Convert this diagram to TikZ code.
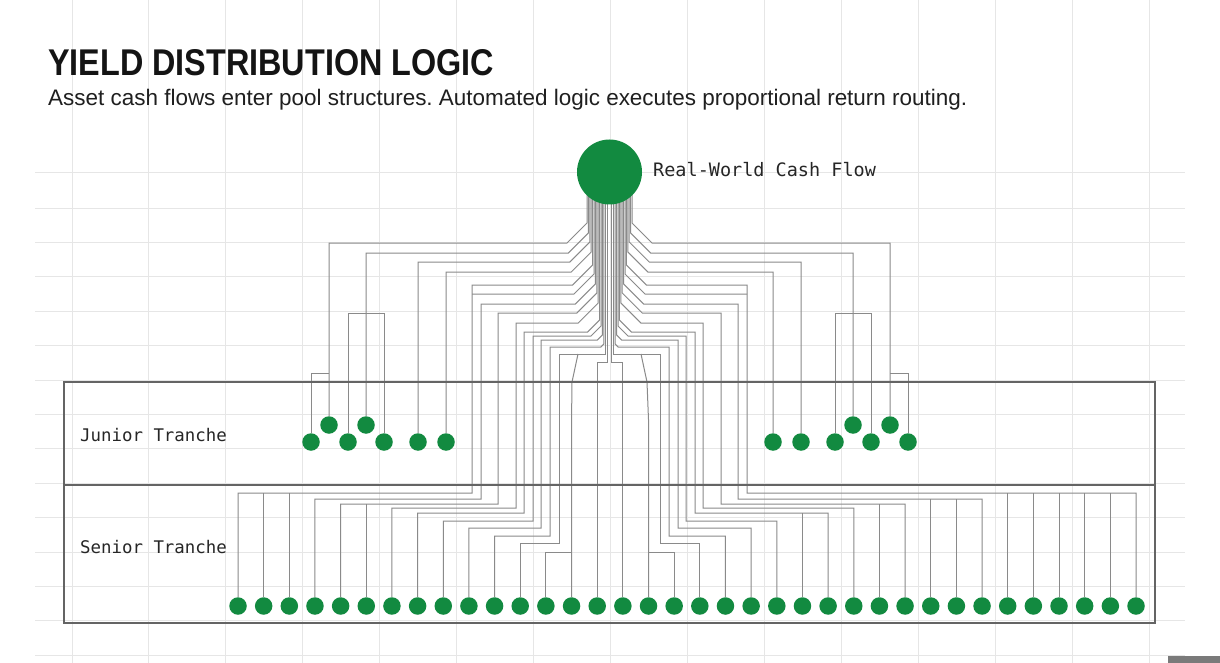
\documentclass[tikz,border=0pt]{standalone}
\usepackage{fontspec}
\setmainfont{Liberation Sans}
\setmonofont{DejaVu Sans Mono}
\usepackage{graphicx}
\usetikzlibrary{backgrounds}
\definecolor{dotgreen}{RGB}{18,138,64}
\definecolor{wiregray}{RGB}{138,138,138}
\definecolor{boxgray}{RGB}{100,100,100}
\definecolor{gridgray}{RGB}{230,230,230}
\tikzset{
  wire/.style={draw=wiregray, line width=1pt},
  gridline/.style={draw=gridgray, line width=0.9pt},
  dotnode/.style={circle, fill=dotgreen, inner sep=0pt, minimum size=17.5pt},
  tranche/.style={draw=boxgray, line width=1.8pt, inner sep=0pt, minimum width=1091pt},
  monolbl/.style={anchor=base west, inner sep=0pt, font=\fontsize{17.4}{17.4}\selectfont\ttfamily, text=black!85},
}
\frenchspacing
\begin{document}
\begin{tikzpicture}[x=1pt,y=-1pt]
\useasboundingbox (0,0) rectangle (1220,663);

% source
\node[circle, fill=dotgreen, inner sep=0pt, minimum size=65pt] (src) at (609.5,172) {};
\node[anchor=base west, inner sep=0pt, font=\fontsize{18.5}{18.5}\selectfont\ttfamily, text=black!85] (srclbl) at (653,176.5) {Real-World Cash Flow};

% title
\node[anchor=base west, inner sep=0pt, text=black!92] (title) at (48,76) {\resizebox{446pt}{26pt}{\fontsize{36}{36}\selectfont\bfseries YIELD DISTRIBUTION LOGIC}};
\node[anchor=base west, inner sep=0pt, text=black!88] (sub) at (48,106) {\resizebox{919pt}{!}{\fontsize{18.5}{18.5}\selectfont Asset cash flows enter pool structures. Automated logic executes proportional return routing.}};

% tranche boxes
\node[tranche, minimum height=103pt] (junior) at (609.5,433.5) {};
\node[tranche, minimum height=138pt] (senior) at (609.5,554) {};
\node[monolbl] (jlbl) at (80,441) {Junior Tranche};
\node[monolbl] (slbl) at (80,553) {Senior Tranche};

% senior dots
\foreach \n in {0,...,35}{
  \pgfmathsetmacro\sx{238+25.657*\n}
  \node[dotnode] (S\n) at (\sx,606) {};
}
% junior dots
\foreach \nm/\jx/\jy in {L1/311/442, L2/329/425, L3/348/442, L4/366/425, L5/384/442, L6/418/442, L7/446/442,
  R1/908/442, R2/890/425, R3/871/442, R4/853/425, R5/835/442, R6/801/442, R7/773/442}{
  \node[dotnode] (\nm) at (\jx,\jy) {};
}

\begin{scope}[on background layer]
  \fill[white] (0,0) rectangle (1220,663);
  % grid
  \foreach \i in {0,...,14}{
    \pgfmathsetmacro\gx{72+76.93*\i}
    \draw[gridline] (\gx,0) -- (\gx,663);
  }
  \foreach \gy in {172,208,242.4,276.8,311.2,345.6,380,414.4,448.8,483.2,517.6,552,586.4,620.8,655.2}{
    \draw[gridline] (35,\gy) -- (1185,\gy);
  }

  % junior wires, left
  \foreach \kk/\hh/\dd/\tg in {0/243/20/L2, 1/253/20/L4, 2/262/20/L6, 3/272/20/L7}{
    \pgfmathsetmacro\wdx{-22.5+1.4*\kk}
    \pgfmathsetmacro\wb{609.5+\wdx}
    \pgfmathsetmacro\wc{\wb-\dd}
    \pgfmathsetmacro\wt{\hh-\dd}
    \draw[wire] ([xshift=\wdx pt]src.center) -- (\wb,\wt) -- (\wc,\hh) -| (\tg);
  }
  % junior wires, right
  \foreach \kk/\hh/\dd/\tg in {0/243/20/R2, 1/253/20/R4, 2/262/20/R6, 3/272/20/R7}{
    \pgfmathsetmacro\wdx{22.5-1.4*\kk}
    \pgfmathsetmacro\wb{609.5+\wdx}
    \pgfmathsetmacro\wc{\wb+\dd}
    \pgfmathsetmacro\wt{\hh-\dd}
    \draw[wire] ([xshift=\wdx pt]src.center) -- (\wb,\wt) -- (\wc,\hh) -| (\tg);
  }
  % junior branches
  \draw[wire] (L2 |- 0,373) -| (L1);
  \draw[wire] (L3) |- (L5 |- 0,313) -- (L5);
  \draw[wire] (R2 |- 0,373) -| (R1);
  \draw[wire] (R3) |- (R5 |- 0,313) -- (R5);

  % senior wires, left
  \foreach \kk/\hh/\dd/\vv/\yy/\tg in {4/285/20/472/493/S0, 6/304/20/481/499/S3, 7/313/20/498/504/S4,
      8/323/20/516/508/S6, 9/332/12/524/513/S7, 10/336/10/533/521/S8, 11/340/5/541/528/S9,
      12/347/3/550/536/S10, 13/354/0/559/543/S11}{
    \pgfmathsetmacro\wdx{-22.5+1.4*\kk}
    \pgfmathsetmacro\wb{609.5+\wdx}
    \pgfmathsetmacro\wc{\wb-\dd}
    \pgfmathsetmacro\wt{\hh-\dd}
    \draw[wire] ([xshift=\wdx pt]src.center) -- (\wb,\wt) -- (\wc,\hh) -- (\vv,\hh) -- (\vv,\yy) -| (\tg);
  }
  % senior wires, right
  \foreach \kk/\hh/\dd/\vv/\yy/\tg in {4/285/20/747/493/S35, 6/304/20/738/499/S29, 7/313/20/721/504/S26,
      8/323/20/703/508/S24, 9/332/12/695/513/S23, 10/336/10/686/521/S21, 11/340/5/678/528/S20,
      12/347/3/669/536/S19, 13/354/0/660/543/S18}{
    \pgfmathsetmacro\wdx{22.5-1.4*\kk}
    \pgfmathsetmacro\wb{609.5+\wdx}
    \pgfmathsetmacro\wc{\wb+\dd}
    \pgfmathsetmacro\wt{\hh-\dd}
    \draw[wire] ([xshift=\wdx pt]src.center) -- (\wb,\wt) -- (\wc,\hh) -- (\vv,\hh) -- (\vv,\yy) -| (\tg);
  }
  % joining wires
  \draw[wire] ([xshift=-15.5pt]src.center) -- (594,274) -- (574,294) -- (472,294);
  \draw[wire] ([xshift=15.5pt]src.center) -- (625,274) -- (645,294) -- (747,294);

  % extra drops
  \foreach \n/\yy in {1/493, 2/493, 5/504, 30/493, 31/493, 32/493, 33/493, 34/493, 27/499, 28/499, 25/504, 22/513}{
    \draw[wire] (S\n |- 0,\yy) -- (S\n);
  }

  % slanted branches
  \draw[wire] (578,354) -- (572,382) -- (S13 |- 0,420) -- (S13);
  \draw[wire] (S13 |- 0,552) -| (S12);
  \draw[wire] (641,354) -- (647,382) -- (S16 |- 0,420) -- (S16);
  \draw[wire] (S16 |- 0,552) -| (S17);

  % centre wires
  \draw[wire] ([xshift=-2pt]src.center) -- (607.5,362) -| (S14);
  \draw[wire] ([xshift=2pt]src.center) -- (611.5,362) -| (S15);
\end{scope}

\fill[black!52] (1168,656) rectangle (1220,663);
\end{tikzpicture}
\end{document}
